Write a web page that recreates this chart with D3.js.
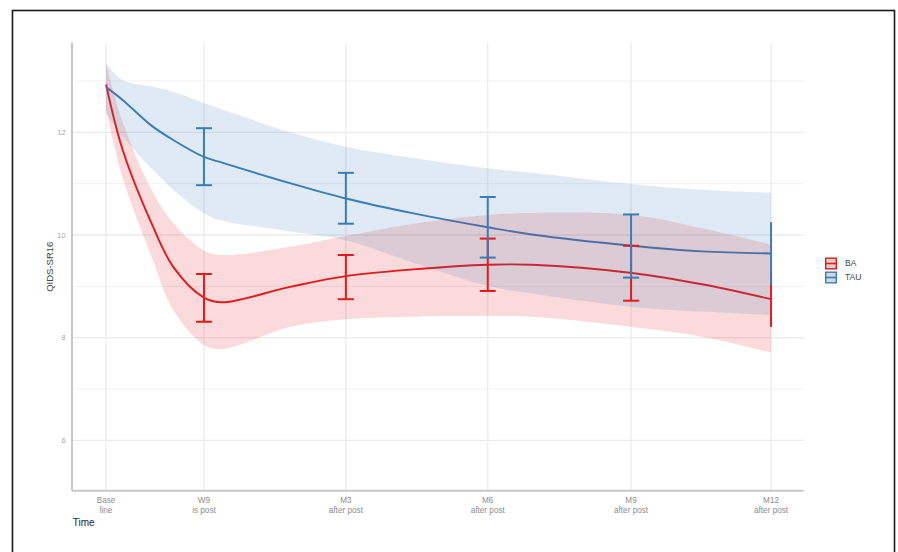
<!DOCTYPE html>
<html>
<head>
<meta charset="utf-8">
<script src="https://cdn.jsdelivr.net/npm/d3@7"></script>
<style>
  body { margin: 0; background: #fff; }
  svg { display: block; font-family: "Liberation Sans", Arial, sans-serif; }
</style>
</head>
<body>
<svg id="chart" width="898" height="552"></svg>
<script>
// visit positions on the time axis (months since baseline)
const visitLabels = [['Base', 'line'], ['W9', 'is post'], ['M3', 'after post'], ['M6', 'after post'], ['M9', 'after post'], ['M12', 'after post']];
const visitMonths = [0, 2.07, 5.07, 8.07, 11.1, 14.06];

// smoothed trajectories
const smoothMonths = [0, 0.35, 0.96, 1.42, 2.07, 2.45, 3.89, 5.07, 6.5, 8.07, 9.0, 11.12, 12.6, 14.06];
const baFit = [12.93, 11.66, 10.23, 9.38, 8.78, 8.69, 8.99, 9.2, 9.33, 9.42, 9.42, 9.26, 9.04, 8.75];
const baHi = [13.34, 12.2, 10.88, 10.23, 9.7, 9.61, 9.77, 9.98, 10.22, 10.39, 10.43, 10.39, 10.13, 9.81];
const baLo = [12.45, 11.12, 9.58, 8.54, 7.86, 7.78, 8.21, 8.36, 8.41, 8.42, 8.41, 8.21, 8.02, 7.71];
const tauFit = [12.88, 12.63, 12.13, 11.85, 11.52, 11.41, 11.01, 10.71, 10.42, 10.15, 10.01, 9.79, 9.68, 9.64];
const tauHi = [13.34, 13.02, 12.89, 12.79, 12.57, 12.45, 12.0, 11.72, 11.5, 11.3, 11.21, 10.99, 10.88, 10.82];
const tauLo = [12.37, 11.92, 11.3, 10.88, 10.42, 10.28, 10.07, 9.9, 9.46, 9.01, 8.86, 8.6, 8.51, 8.44];

// observed intervals at the follow-up visits (W9 .. M12)
const barVisits = [1, 2, 3, 4, 5];
const baBarLo = [8.31, 8.75, 8.91, 8.72, 8.21];
const baBarHi = [9.24, 9.61, 9.93, 9.79, 9.31];
const tauBarLo = [10.97, 10.22, 9.56, 9.17, 9.03];
const tauBarHi = [12.08, 11.21, 10.74, 10.4, 10.25];
const capWidth = [16, 16, 16, 16, 0];

const yMajor = [6, 8, 10, 12];
const yMinor = [7, 9, 11, 13];

const groups = [
  {name: 'BA', color: '#E41A1C', fit: baFit, lo: baLo, hi: baHi, barLo: baBarLo, barHi: baBarHi},
  {name: 'TAU', color: '#377EB8', fit: tauFit, lo: tauLo, hi: tauHi, barLo: tauBarLo, barHi: tauBarHi}
];

const svg = d3.select('#chart');

// outer frame
svg.append('rect')
  .attr('x', 12.5).attr('y', 10.5)
  .attr('width', 882).attr('height', 600)
  .attr('fill', 'none').attr('stroke', '#1a1a1a').attr('stroke-width', 1.6);

const x = d3.scaleLinear().domain([-0.72, 14.75]).range([72, 803.7]);
const y = d3.scaleLinear().domain([5.02, 13.745]).range([490.7, 42.7]);

const grid = svg.append('g');
grid.selectAll('.minor').data(yMinor).enter().append('line')
  .attr('x1', x.range()[0]).attr('x2', x.range()[1])
  .attr('y1', d => y(d)).attr('y2', d => y(d))
  .attr('stroke', '#ededed').attr('stroke-width', 0.8);
grid.selectAll('.major').data(yMajor).enter().append('line')
  .attr('x1', x.range()[0]).attr('x2', x.range()[1])
  .attr('y1', d => y(d)).attr('y2', d => y(d))
  .attr('stroke', '#ebebeb').attr('stroke-width', 1.3);
grid.selectAll('.vert').data(visitMonths).enter().append('line')
  .attr('x1', d => x(d)).attr('x2', d => x(d))
  .attr('y1', y.range()[0]).attr('y2', y.range()[1])
  .attr('stroke', '#ebebeb').attr('stroke-width', 1.3);

const line = d3.line()
  .x((d, i) => x(smoothMonths[i]))
  .y(d => y(d))
  .curve(d3.curveCatmullRom);

const area = d3.area()
  .x((d, i) => x(smoothMonths[i]))
  .y0(d => y(d[0]))
  .y1(d => y(d[1]))
  .curve(d3.curveCatmullRom);

// lines sit under the ribbons, like the source
groups.forEach(g => {
  svg.append('path')
    .attr('d', line(g.fit))
    .attr('fill', 'none')
    .attr('stroke', g.color)
    .attr('stroke-width', 1.9);
});
groups.forEach(g => {
  svg.append('path')
    .attr('d', area(g.lo.map((v, i) => [v, g.hi[i]])))
    .attr('fill', g.color)
    .attr('fill-opacity', 0.16);
});

// error bars
groups.forEach(g => {
  const bars = svg.append('g').attr('stroke', g.color).attr('stroke-width', 2);
  barVisits.forEach((vi, i) => {
    const cx = x(visitMonths[vi]);
    const w = capWidth[i] / 2;
    bars.append('line')
      .attr('x1', cx).attr('x2', cx)
      .attr('y1', y(g.barLo[i])).attr('y2', y(g.barHi[i]));
    if (w > 0) {
      [g.barLo[i], g.barHi[i]].forEach(v => {
        bars.append('line')
          .attr('x1', cx - w).attr('x2', cx + w)
          .attr('y1', y(v)).attr('y2', y(v));
      });
    }
  });
});

// axes lines
svg.append('line')
  .attr('x1', x.range()[0]).attr('x2', x.range()[0])
  .attr('y1', y.range()[1]).attr('y2', y.range()[0])
  .attr('stroke', '#c8c8c8').attr('stroke-width', 2);
svg.append('line')
  .attr('x1', x.range()[0]).attr('x2', x.range()[1])
  .attr('y1', y.range()[0]).attr('y2', y.range()[0])
  .attr('stroke', '#c8c8c8').attr('stroke-width', 2);

// y tick labels
svg.selectAll('.ytick').data(yMajor).enter().append('text')
  .attr('x', 65.7).attr('y', d => y(d))
  .attr('dy', '0.35em')
  .attr('text-anchor', 'end')
  .attr('font-size', 7.5)
  .attr('fill', '#a6a6a6')
  .text(d => d);

// x tick labels, two lines each
const xt = svg.selectAll('.xtick').data(visitLabels).enter().append('text')
  .attr('text-anchor', 'middle')
  .attr('font-size', 8.2)
  .attr('fill', '#8c8c8c');
xt.append('tspan')
  .attr('x', (d, i) => x(visitMonths[i])).attr('y', 503.3)
  .text(d => d[0]);
xt.append('tspan')
  .attr('x', (d, i) => x(visitMonths[i])).attr('y', 512.8)
  .text(d => d[1]);

svg.append('text')
  .attr('x', 72.7).attr('y', 525.7)
  .attr('font-size', 10)
  .attr('fill', '#222')
  .text('Time');

svg.append('text')
  .attr('transform', 'translate(52.5,266.7) rotate(-90)')
  .attr('text-anchor', 'middle')
  .attr('font-size', 9.5)
  .attr('fill', '#444')
  .text('QIDS-SR16');

// legend
const legend = svg.append('g').attr('transform', 'translate(825,257.5)');
groups.forEach((g, i) => {
  const k = legend.append('g').attr('transform', `translate(0,${i * 14})`);
  k.append('rect')
    .attr('x', 0.7).attr('y', 0.7).attr('width', 10.6).attr('height', 10.6)
    .attr('fill', '#e3e3e3').attr('stroke', g.color).attr('stroke-width', 1.4);
  k.append('rect')
    .attr('x', 0.7).attr('y', 0.7).attr('width', 10.6).attr('height', 10.6)
    .attr('fill', g.color).attr('fill-opacity', 0.1);
  k.append('line')
    .attr('x1', 0).attr('x2', 12).attr('y1', 6).attr('y2', 6)
    .attr('stroke', g.color).attr('stroke-width', 1.6);
  k.append('text')
    .attr('x', 20).attr('y', 6)
    .attr('dy', '0.35em')
    .attr('font-size', 8.5)
    .attr('fill', '#444')
    .text(g.name);
});
</script>
</body>
</html>
